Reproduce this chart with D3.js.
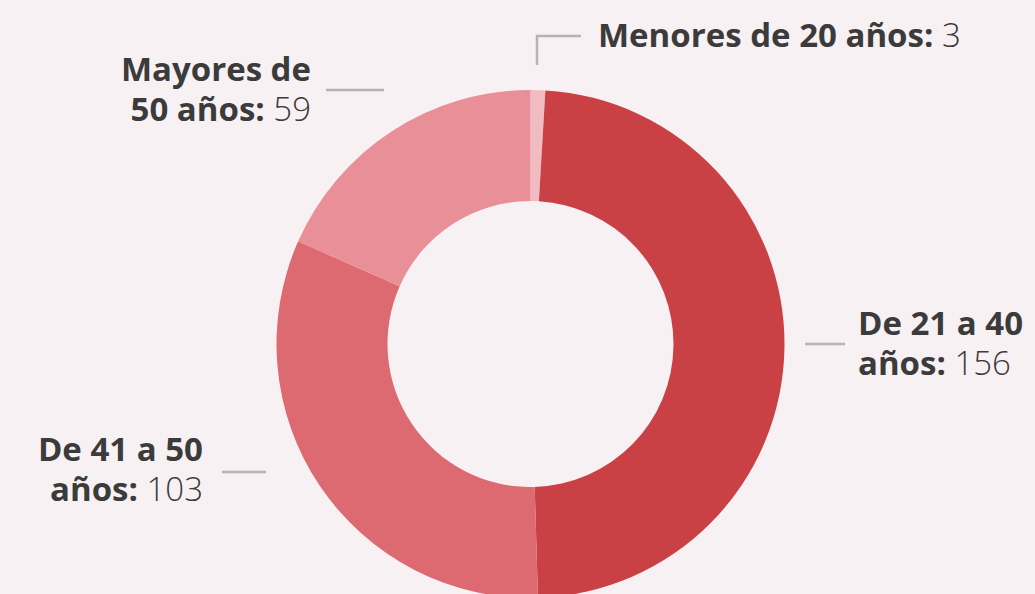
<!DOCTYPE html>
<html>
<head>
<meta charset="utf-8">
<script src="https://cdn.jsdelivr.net/npm/d3@7"></script>
<style>
  html, body { margin: 0; padding: 0; background: #f8f1f3; }
  svg { display: block; }
</style>
</head>
<body>
<script>
const categories = ["Menores de 20 años", "De 21 a 40 años", "De 41 a 50 años", "Mayores de 50 años"];
const values = [3, 156, 103, 59];
// label text split over lines: bold part, the value goes after the last line
const labelLines = [
  ["Menores de 20 años:"],
  ["De 21 a 40", "años:"],
  ["De 41 a 50", "años:"],
  ["Mayores de", "50 años:"]
];
const colors = ["#f0bcc2", "#c94045", "#dd6a71", "#e98f97"];

const width = 1035, height = 594;
const cx = 530.5, cy = 344;
const outerR = 254, innerR = 143;

// label placement (layout only)
const labelPos = [
  {x: 598, y: 47, anchor: "start", leader: [[581, 36], [537, 36], [537, 65]]},
  {x: 858, y: 335, anchor: "start", leader: [[805, 344], [845, 344]]},
  {x: 203, y: 461, anchor: "end", leader: [[222, 472], [266, 472]]},
  {x: 311, y: 81, anchor: "end", leader: [[326, 90], [384, 90]]}
];
const lineH = 39.5;

const svg = d3.select("body").append("svg")
    .attr("width", width)
    .attr("height", height);

svg.append("rect")
    .attr("width", width)
    .attr("height", height)
    .attr("fill", "#f8f1f3");

const pie = d3.pie().sort(null).value(d => d);
const arc = d3.arc().innerRadius(innerR).outerRadius(outerR);

const donut = svg.append("g")
    .attr("transform", `translate(${cx}, ${cy})`);

donut.selectAll("path")
  .data(pie(values))
  .enter().append("path")
    .attr("d", arc)
    .attr("fill", (d, i) => colors[i]);

const line = d3.line();

svg.append("g").selectAll("path")
  .data(labelPos)
  .enter().append("path")
    .attr("d", d => line(d.leader))
    .attr("fill", "none")
    .attr("stroke", "#b5b3b4")
    .attr("stroke-width", 2.5);

const labels = svg.append("g")
    .attr("font-family", "'Open Sans', Roboto, sans-serif")
    .attr("font-size", 33)
    .attr("fill", "#3b3b3b");

// one text element per line
labelLines.forEach((lines, i) => {
  const p = labelPos[i];
  lines.forEach((l, j) => {
    const t = labels.append("text")
        .attr("x", p.x)
        .attr("y", p.y + j * lineH)
        .attr("text-anchor", p.anchor);
    t.append("tspan")
        .attr("font-weight", 700)
        .text(l);
    if (j === lines.length - 1) {
      t.append("tspan")
          .attr("font-weight", 300)
          .text(" " + values[i]);
    }
  });
});
</script>
</body>
</html>
